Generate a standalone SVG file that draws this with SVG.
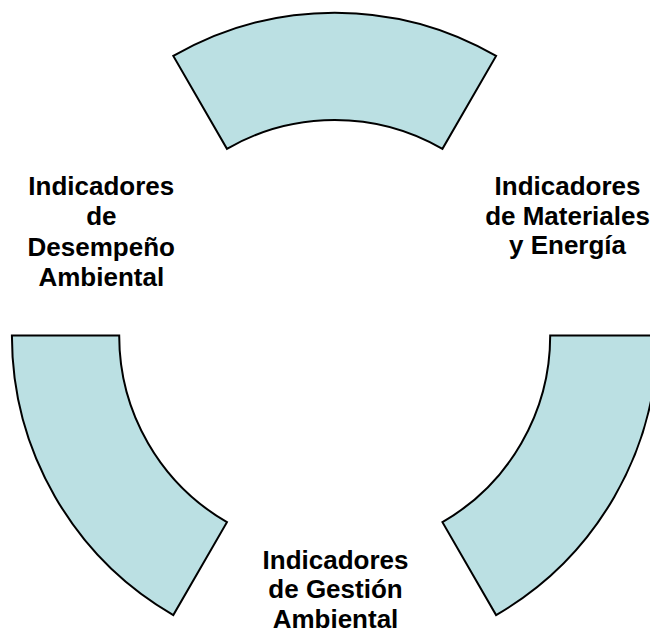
<svg xmlns="http://www.w3.org/2000/svg" width="650" height="631" viewBox="0 0 650 631">
<style>
.seg{fill:#BBE0E3;stroke:#000;stroke-width:2;stroke-linejoin:miter}
.lbl{font-family:"Liberation Sans",Arial,sans-serif;font-weight:bold;font-size:26px;fill:#000;text-anchor:middle}
</style>
<rect width="650" height="631" fill="#fff"/>
<g id="seg-top">
<path class="seg" d="M173.3,55.95 A322.8,322.8 0 0 1 496.1,55.95 L442.45,148.87 A215.5,215.5 0 0 0 226.95,148.87 Z"/>
</g>
<g id="seg-left">
<path class="seg" d="M11.9,335.5 L119.2,335.5 A215.5,215.5 0 0 0 226.95,522.13 L173.3,615.05 A322.8,322.8 0 0 1 11.9,335.5 Z"/>
</g>
<g id="seg-right">
<path class="seg" d="M657.5,335.5 L550.2,335.5 A215.5,215.5 0 0 1 442.45,522.13 L496.1,615.05 A322.8,322.8 0 0 0 657.5,335.5 Z"/>
</g>
<g id="label-desempeno">
<text class="lbl" x="101.3" y="195">Indicadores</text>
<text class="lbl" x="101.3" y="225">de</text>
<text class="lbl" x="101.3" y="255.5">Desempeño</text>
<text class="lbl" x="101.3" y="285.5">Ambiental</text>
</g>
<g id="label-materiales">
<text class="lbl" x="567.5" y="195">Indicadores</text>
<text class="lbl" x="567.5" y="224.5">de Materiales</text>
<text class="lbl" x="567.5" y="254">y Energía</text>
</g>
<g id="label-gestion">
<text class="lbl" x="335.5" y="568.8">Indicadores</text>
<text class="lbl" x="335.5" y="598.3">de Gestión</text>
<text class="lbl" x="335.5" y="627.7">Ambiental</text>
</g>
<g id="connectors"></g>
</svg>
